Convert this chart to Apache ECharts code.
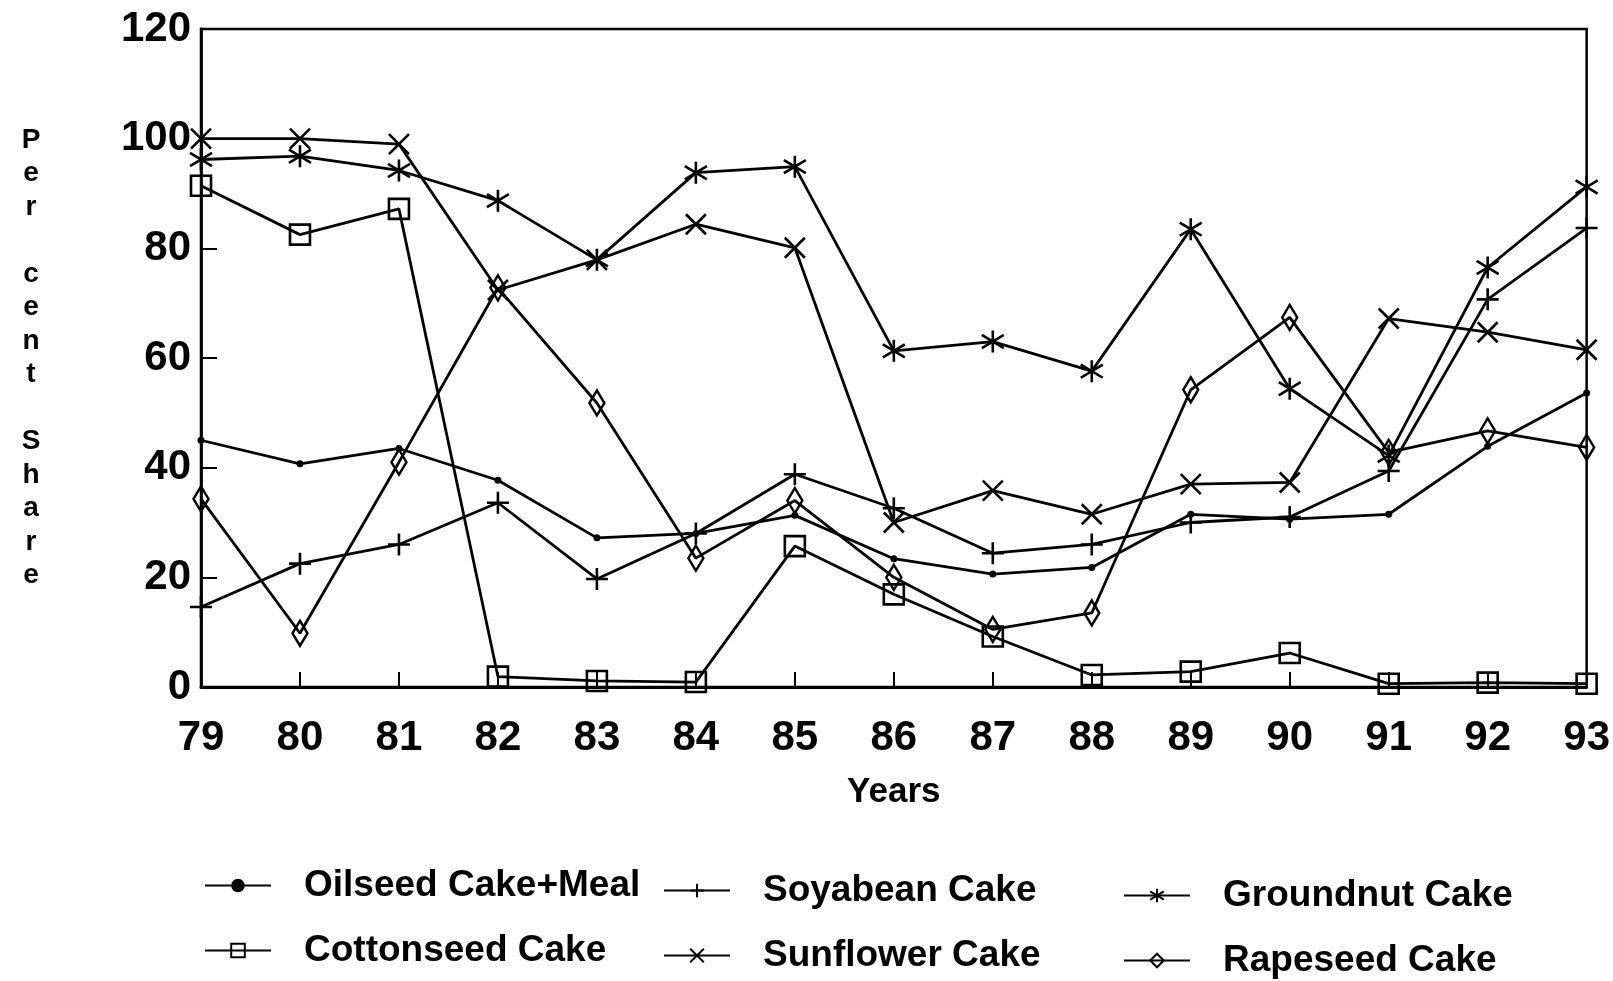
<!DOCTYPE html>
<html lang="en">
<head>
    <meta charset="UTF-8">
    <title>Per cent Share</title>
    <script src="https://cdn.jsdelivr.net/npm/echarts@6/dist/echarts.min.js"></script>
    <style>
        * {
            margin: 0;
            padding: 0;
        }
        body, html {
            background: #fff;
        }
    </style>
</head>
<body>
<div id="main" style="width: 1613px;height:981px;"></div>
<script type="text/javascript">
    var years = ['79', '80', '81', '82', '83', '84', '85', '86', '87', '88', '89', '90', '91', '92', '93'];
    var oilseed = [45, 40.7, 43.5, 37.7, 27.2, 28, 31.3, 23.4, 20.6, 21.8, 31.5, 30.6, 31.5, 43.9, 53.6];
    var soyabean = [14.6, 22.5, 26, 33.6, 19.7, 28, 38.8, 32.6, 24.4, 26, 30, 31, 39.4, 70.7, 83.7];
    var groundnut = [96.2, 96.8, 94.2, 88.7, 77.9, 93.8, 94.9, 61.3, 63, 57.6, 83.5, 54.4, 42.2, 76.5, 91.2];
    var cottonseed = [91.4, 82.5, 87.2, 1.9, 1.1, 0.9, 25.7, 16.9, 9.2, 2.2, 2.8, 6.2, 0.6, 0.8, 0.6];
    var sunflower = [100, 100, 99, 72.4, 77.9, 84.4, 80.1, 30, 35.8, 31.5, 37, 37.3, 67.2, 64.7, 61.5];
    var rapeseed = [34.3, 9.8, 41, 72.8, 51.8, 23.5, 34, 20, 10.5, 13.5, 54.2, 67.4, 42.8, 46.7, 43.7];
    var names = ['Oilseed Cake+Meal', 'Soyabean Cake', 'Groundnut Cake', 'Cottonseed Cake', 'Sunflower Cake', 'Rapeseed Cake'];

    var FONT = "'Liberation Sans', Arial, sans-serif";

    var myChart = echarts.init(document.getElementById('main'));

    // 每条线都是黑色, 只靠符号区分
    function makeLine(name, data, symbol, size) {
        return {
            name: name,
            type: 'line',
            data: data,
            symbol: symbol,
            symbolSize: size,
            lineStyle: {color: '#000', width: 2.8},
            itemStyle: {color: 'transparent', borderColor: '#000', borderWidth: 2.6},
            emphasis: {disabled: true}
        };
    }

    // 图例位置 (六个单独的 legend), 扫描件略微倾斜
    var legendPos = [
        [199, 862], [658, 867], [1118, 872],
        [199, 927], [658, 932], [1118, 937]
    ];
    var legends = names.map(function (n, i) {
        return {
            data: [n],
            left: legendPos[i][0],
            top: legendPos[i][1],
            itemWidth: 66,
            itemHeight: 17,
            selectedMode: false,
            textStyle: {
                fontFamily: FONT,
                fontWeight: 'bold',
                fontSize: 37,
                color: '#000',
                padding: [0, 0, 0, 28]
            }
        };
    });

    var option = {
        animation: false,
        backgroundColor: '#fff',
        legend: legends,
        grid: {
            left: 201,
            right: 26,
            top: 29,
            bottom: 294,
            show: true,
            borderColor: '#000',
            borderWidth: 2.5
        },
        xAxis: {
            type: 'category',
            data: years,
            boundaryGap: false,
            name: 'Years',
            nameLocation: 'middle',
            nameGap: 88,
            nameTextStyle: {fontFamily: FONT, fontWeight: 'bold', fontSize: 35, color: '#000'},
            axisLine: {lineStyle: {color: '#000', width: 2.8}},
            axisTick: {inside: true, length: 15, lineStyle: {color: '#000', width: 2}},
            axisLabel: {fontFamily: FONT, fontWeight: 'bold', fontSize: 42, color: '#000', margin: 30}
        },
        yAxis: {
            type: 'value',
            min: 0,
            max: 120,
            interval: 20,
            name: 'P\ne\nr\n\nc\ne\nn\nt\n\nS\nh\na\nr\ne',
            nameLocation: 'middle',
            nameRotate: 0,
            nameGap: 170,
            nameTextStyle: {
                fontFamily: FONT, fontWeight: 'bold', fontSize: 28, color: '#000',
                lineHeight: 33.5, align: 'center', verticalAlign: 'middle'
            },
            splitLine: {show: false},
            axisLine: {show: true, lineStyle: {color: '#000', width: 2.8}},
            axisTick: {show: true, inside: true, length: 16, lineStyle: {color: '#000', width: 2}},
            axisLabel: {fontFamily: FONT, fontWeight: 'bold', fontSize: 42, color: '#000', margin: 10}
        },
        series: [
            makeLine(names[0], oilseed, 'circle', 7),
            makeLine(names[1], soyabean, 'path://M0,10 L20,10 M10,0 L10,20', 22),
            makeLine(names[2], groundnut, 'path://M10,0 L10,20 M1,4 L19,16 M1,16 L19,4', 22),
            makeLine(names[3], cottonseed, 'rect', 20),
            makeLine(names[4], sunflower, 'path://M0,0 L20,20 M0,20 L20,0', 20),
            makeLine(names[5], rapeseed, 'diamond', [15, 25])
        ]
    };
    // 圆点要实心
    option.series[0].itemStyle.color = '#000';
    option.series[0].itemStyle.borderWidth = 0;

    myChart.setOption(option);
</script>
</body>
</html>
